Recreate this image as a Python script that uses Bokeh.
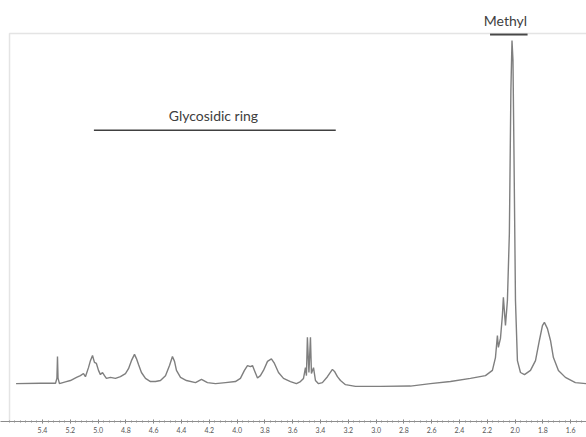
import numpy as np
from bokeh.plotting import figure
from bokeh.models import (Range1d, Label, FixedTicker, PrintfTickFormatter,
                          ColumnDataSource, BoxAnnotation)
from bokeh.embed import file_html
from bokeh.resources import INLINE

# 1H NMR spectrum: chemical shift (ppm) and relative intensity
ppm = [5.59, 5.414, 5.306, 5.296, 5.292, 5.288, 5.278, 5.235, 5.199, 5.155,
       5.127, 5.105, 5.091, 5.069, 5.055, 5.040, 5.026, 5.012, 4.997, 4.983,
       4.968, 4.954, 4.940, 4.911, 4.875, 4.839, 4.803, 4.781, 4.760, 4.738,
       4.724, 4.709, 4.688, 4.659, 4.623, 4.587, 4.551, 4.515, 4.486, 4.465,
       4.450, 4.436, 4.407, 4.364, 4.299, 4.256, 4.213, 4.155, 4.083, 4.012,
       3.976, 3.947, 3.925, 3.904, 3.889, 3.875, 3.853, 3.832, 3.810, 3.781,
       3.753, 3.731, 3.702, 3.666, 3.616, 3.573, 3.544, 3.522, 3.508, 3.501,
       3.494, 3.483, 3.472, 3.465, 3.450, 3.436, 3.414, 3.386, 3.350, 3.314,
       3.299, 3.278, 3.256, 3.220, 3.148, 2.968, 2.753, 2.609, 2.465, 2.321,
       2.213, 2.163, 2.141, 2.127, 2.120, 2.105, 2.091, 2.084, 2.069, 2.055,
       2.041, 2.030, 2.022, 2.015, 2.008, 1.997, 1.983, 1.961, 1.932, 1.889,
       1.853, 1.825, 1.803, 1.789, 1.767, 1.745, 1.724, 1.688, 1.638, 1.566,
       1.486]
intensity = [1.4, 1.5, 1.5, 3.0, 9.2, 3.0, 1.4, 1.9, 2.3, 3.2,
             3.7, 4.3, 3.4, 6.0, 8.0, 9.5, 7.5, 7.2, 5.2, 4.0,
             4.6, 3.7, 2.9, 3.2, 2.9, 3.4, 4.3, 5.7, 8.0, 9.8,
             8.6, 6.9, 4.6, 2.9, 2.0, 2.0, 2.3, 3.7, 6.6, 9.2,
             7.8, 5.2, 3.2, 2.3, 1.7, 2.6, 1.7, 1.4, 1.7, 2.0,
             2.9, 5.2, 6.6, 6.3, 6.6, 5.2, 3.0, 3.7, 5.2, 7.8,
             8.5, 7.2, 4.6, 2.9, 2.0, 1.4, 2.0, 2.9, 6.0, 3.7,
             14.7, 4.6, 14.7, 4.3, 6.0, 2.3, 1.4, 1.7, 3.4, 5.5,
             4.9, 3.4, 2.3, 1.1, 0.6, 0.6, 0.7, 1.4, 2.0, 2.9,
             3.7, 5.2, 8.9, 15.2, 11.8, 14.4, 21.0, 26.2, 18.1, 25.3,
             44.5, 85.6, 100.0, 94.3, 68.4, 25.3, 8.0, 4.6, 4.0, 5.2,
             8.0, 13.8, 18.1, 19.0, 17.2, 13.8, 8.9, 5.2, 3.2, 1.7,
             1.4]

# axis tick labels (ppm)
tick_ppm = [5.4, 5.2, 5.0, 4.8, 4.6, 4.4, 4.2, 4.0, 3.8, 3.6,
            3.4, 3.2, 3.0, 2.8, 2.6, 2.4, 2.2, 2.0, 1.8, 1.6]

# annotated regions (ppm bounds) and their labels
glyco_label = "Glycosidic ring"
glyco_ppm = [5.03, 3.29]
glyco_level = 74.2
methyl_label = "Methyl"
methyl_ppm = [2.18, 1.91]
methyl_level = 101.7

# spectrum box (left edge in ppm, top in intensity units)
box_left = 5.637
box_top = 102.0

GRAY = "#a6a6a6"
TXT = "#404040"

p = figure(width=586, height=437, output_backend="svg", toolbar_location=None,
           x_range=Range1d(5.702, 1.486), y_range=Range1d(-9.48, 111.5),
           y_axis_location=None,
           min_border_left=0, min_border_right=0, min_border_top=0,
           min_border_bottom=16)
p.outline_line_color = None
p.grid.visible = False
p.background_fill_color = "white"
p.border_fill_color = "white"

p.add_layout(BoxAnnotation(left=box_left, right=1.2, top=box_top, bottom=-30,
                           fill_alpha=0, fill_color=None,
                           line_color=GRAY, line_width=1.5))

src = ColumnDataSource(dict(ppm=ppm, intensity=intensity))
p.line("ppm", "intensity", source=src, line_color="#7f7f7f", line_width=1.4)

p.line(x=glyco_ppm, y=[glyco_level] * 2, line_color=TXT, line_width=1.5)
p.line(x=methyl_ppm, y=[methyl_level] * 2, line_color=TXT, line_width=2)

p.add_layout(Label(x=4.17, y=78.5, text=glyco_label,
                   text_align="center", text_baseline="middle",
                   text_font="Lato", text_font_size="14px", text_color=TXT))
p.add_layout(Label(x=2.069, y=105.8, text=methyl_label,
                   text_align="center", text_baseline="middle",
                   text_font="Lato", text_font_size="14px", text_color=TXT))

# x axis
xa = p.xaxis[0]
xa.ticker = FixedTicker(ticks=tick_ppm,
                        minor_ticks=list(np.round(np.arange(5.64, 1.48, -0.04), 2)))
xa.formatter = PrintfTickFormatter(format="%.1f")
xa.axis_line_color = "#8c8c8c"
xa.major_tick_line_color = "#808080"
xa.minor_tick_line_color = "#909090"
xa.major_tick_in = 2
xa.major_tick_out = 2
xa.minor_tick_in = 1
xa.minor_tick_out = 1
xa.major_label_text_font = "Lato"
xa.major_label_text_font_size = "7px"
xa.major_label_text_color = "#555555"
xa.major_label_standoff = 3

open("out.html", "w").write(file_html(p, INLINE))
